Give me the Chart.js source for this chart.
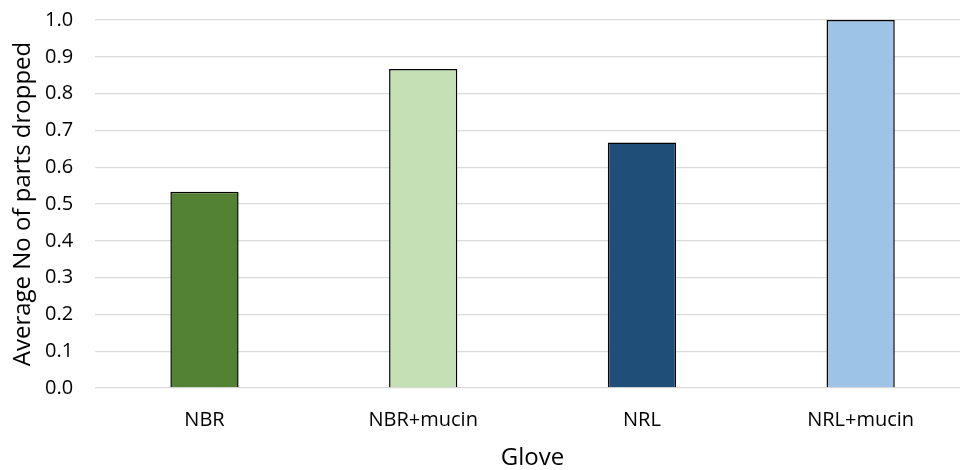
<!DOCTYPE html>
<html>
<head>
<meta charset="utf-8">
<script src="https://cdn.jsdelivr.net/npm/chart.js@4"></script>
<style>
  html, body { margin: 0; padding: 0; background: #ffffff; overflow: hidden; }
  canvas { display: block; margin-top: -14px; }
</style>
</head>
<body>
<canvas id="gloveChart" width="970" height="484"></canvas>
<script>
const gloves = ['NBR', 'NBR+mucin', 'NRL', 'NRL+mucin'];
const avgDropped = [0.533, 0.867, 0.667, 1.0];
const barColours = ['#548235', '#C5E0B4', '#1F4E79', '#9DC3E6'];

let ctx = document.getElementById('gloveChart').getContext('2d');

const gloveChart = new Chart(ctx,
  {
    type: 'bar',
    data:
    {
      labels: gloves,
      datasets:
        [{
          data: avgDropped,
          backgroundColor: barColours,
          borderColor: '#000000',
          borderWidth: 1.5,
          borderSkipped: 'bottom',
          barPercentage: 0.312,
          categoryPercentage: 1.0
        }]
    },
    options:
    {
      responsive: false,
      animation: false,
      layout:
      {
        padding: { top: 8, right: 0, bottom: 0, left: 3 }
      },
      scales:
      {
        x:
        {
          grid: { display: false, drawTicks: false },
          border: { display: false },
          ticks:
          {
            color: '#000000',
            font: { family: '"Open Sans", Lato, sans-serif', size: 20 },
            padding: 20
          },
          title:
          {
            display: true,
            text: 'Glove',
            color: '#000000',
            font: { family: '"Open Sans", Lato, sans-serif', size: 24, lineHeight: 1 },
            padding: { top: -6, bottom: 0 }
          }
        },
        y:
        {
          min: 0,
          max: 1.0,
          grid: { color: '#d9d9d9', lineWidth: 1.3, drawTicks: false },
          border: { display: false },
          ticks:
          {
            stepSize: 0.1,
            color: '#000000',
            font: { family: '"Open Sans", Lato, sans-serif', size: 20 },
            padding: 22,
            callback: v => Number(v).toFixed(1)
          },
          title:
          {
            display: true,
            text: 'Average No of parts dropped',
            color: '#000000',
            font: { family: '"Open Sans", Lato, sans-serif', size: 24, lineHeight: 1 },
            padding: { top: 8, bottom: -12 }
          }
        }
      },
      plugins:
      {
        legend: { display: false },
        tooltip: { enabled: false }
      }
    }
  });
</script>
</body>
</html>
